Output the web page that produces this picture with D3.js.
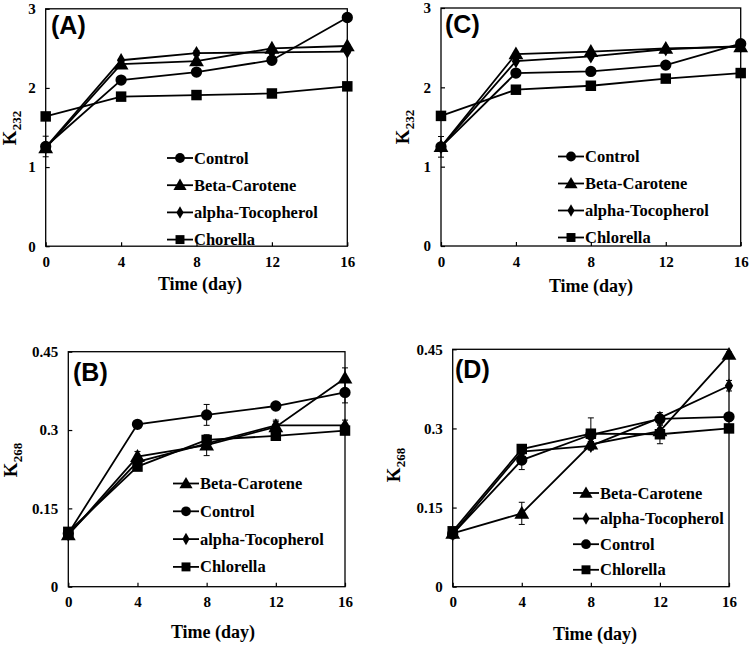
<!DOCTYPE html>
<html>
<head>
<meta charset="utf-8">
<script src="https://cdn.jsdelivr.net/npm/d3@7"></script>
<style>
  html, body { margin: 0; padding: 0; background: #fff; }
  svg { display: block; }
</style>
</head>
<body>
<svg id="chart" width="750" height="646"></svg>
<script>
// ---------------- DATA ----------------
const days = [0, 4, 8, 12, 16];
const xTicks = [0, 4, 8, 12, 16];
const yTicksK232 = [0, 1, 2, 3];
const yTicksK268 = [0, 0.15, 0.3, 0.45];

// Panel A (K232)
const A_control   = [1.26, 2.10, 2.20, 2.35, 2.89];
const A_beta      = [1.24, 2.30, 2.34, 2.50, 2.53];
const A_alpha     = [1.25, 2.35, 2.44, 2.45, 2.46];
const A_chlorella = [1.64, 1.89, 1.91, 1.93, 2.02];
const A_controlErr = [0.13, 0.02, 0.02, 0.02, 0.02];
const A_betaErr    = [0.02, 0.02, 0.02, 0.02, 0.02];
const A_alphaErr   = [0.02, 0.02, 0.03, 0.02, 0.02];
const A_chlorellaErr = [0.02, 0.02, 0.02, 0.02, 0.02];

// Panel C (K232)
const C_control   = [1.25, 2.18, 2.20, 2.28, 2.55];
const C_beta      = [1.25, 2.42, 2.45, 2.49, 2.51];
const C_alpha     = [1.25, 2.33, 2.39, 2.48, 2.52];
const C_chlorella = [1.64, 1.97, 2.02, 2.11, 2.18];
const C_controlErr = [0.13, 0.02, 0.02, 0.02, 0.02];
const C_betaErr    = [0.02, 0.02, 0.02, 0.02, 0.02];
const C_alphaErr   = [0.02, 0.02, 0.02, 0.02, 0.02];
const C_chlorellaErr = [0.02, 0.02, 0.02, 0.02, 0.02];

// Panel B (K268)
const B_control   = [0.102, 0.311, 0.329, 0.346, 0.372];
const B_beta      = [0.099, 0.249, 0.271, 0.306, 0.399];
const B_alpha     = [0.100, 0.239, 0.274, 0.309, 0.309];
const B_chlorella = [0.105, 0.230, 0.281, 0.289, 0.299];
const B_controlErr = [0.003, 0.005, 0.020, 0.005, 0.020];
const B_betaErr    = [0.003, 0.010, 0.020, 0.010, 0.020];
const B_alphaErr   = [0.003, 0.005, 0.005, 0.010, 0.010];
const B_chlorellaErr = [0.003, 0.005, 0.005, 0.005, 0.005];

// Panel D (K268)
const D_control   = [0.100, 0.240, 0.288, 0.318, 0.322];
const D_beta      = [0.101, 0.139, 0.270, 0.295, 0.440];
const D_alpha     = [0.100, 0.256, 0.267, 0.320, 0.381];
const D_chlorella = [0.105, 0.261, 0.290, 0.289, 0.300];
const D_controlErr = [0.003, 0.018, 0.005, 0.012, 0.005];
const D_betaErr    = [0.003, 0.021, 0.005, 0.005, 0.005];
const D_alphaErr   = [0.003, 0.005, 0.008, 0.005, 0.010];
const D_chlorellaErr = [0.003, 0.005, 0.030, 0.018, 0.005];

// ---------------- DRAW ----------------
const svg = d3.select("#chart");
const SERIF = "'Liberation Serif','Times New Roman',serif";
const SANS = "'Liberation Sans',Arial,sans-serif";

const markerType = {
  control: d3.symbolCircle,
  beta: d3.symbolTriangle,
  alpha: d3.symbolDiamond,
  chlorella: d3.symbolSquare
};
const markerSize = { control: 100, beta: 95, alpha: 60, chlorella: 110 };
const legendSize = { control: 75, beta: 75, alpha: 45, chlorella: 80 };

const panels = [
  {
    label: "(A)", box: {l: 45.7, r: 347.3, t: 8.8, b: 246.2}, yMax: 3, yTicks: yTicksK232, sub: "232",
    series: {control: [A_control, A_controlErr], beta: [A_beta, A_betaErr], alpha: [A_alpha, A_alphaErr], chlorella: [A_chlorella, A_chlorellaErr]},
    legend: [["control","Control"],["beta","Beta-Carotene"],["alpha","alpha-Tocopherol"],["chlorella","Chorella"]],
    leg: {x: 167, y: 158, dy: 27.2}, labelPos: {x: 51, y: 34}, title: {x: 200, y: 290}, ytitle: {x: 16, y: 128}
  },
  {
    label: "(C)", box: {l: 441, r: 740.7, t: 8, b: 246}, yMax: 3, yTicks: yTicksK232, sub: "232",
    series: {control: [C_control, C_controlErr], beta: [C_beta, C_betaErr], alpha: [C_alpha, C_alphaErr], chlorella: [C_chlorella, C_chlorellaErr]},
    legend: [["control","Control"],["beta","Beta-Carotene"],["alpha","alpha-Tocopherol"],["chlorella","Chlorella"]],
    leg: {x: 558, y: 156.5, dy: 27}, labelPos: {x: 445, y: 33}, title: {x: 591, y: 292}, ytitle: {x: 409, y: 127}
  },
  {
    label: "(B)", box: {l: 68.3, r: 345, t: 351.7, b: 586.7}, yMax: 0.45, yTicks: yTicksK268, sub: "268",
    series: {control: [B_control, B_controlErr], beta: [B_beta, B_betaErr], alpha: [B_alpha, B_alphaErr], chlorella: [B_chlorella, B_chlorellaErr]},
    legend: [["beta","Beta-Carotene"],["control","Control"],["alpha","alpha-Tocopherol"],["chlorella","Chlorella"]],
    leg: {x: 173, y: 483.5, dy: 27.8}, labelPos: {x: 73, y: 381}, title: {x: 213, y: 638}, ytitle: {x: 17, y: 460}
  },
  {
    label: "(D)", box: {l: 452.7, r: 729, t: 349.3, b: 586.7}, yMax: 0.45, yTicks: yTicksK268, sub: "268",
    series: {control: [D_control, D_controlErr], beta: [D_beta, D_betaErr], alpha: [D_alpha, D_alphaErr], chlorella: [D_chlorella, D_chlorellaErr]},
    legend: [["beta","Beta-Carotene"],["alpha","alpha-Tocopherol"],["control","Control"],["chlorella","Chlorella"]],
    leg: {x: 573, y: 493, dy: 25.6}, labelPos: {x: 455, y: 378}, title: {x: 595, y: 640}, ytitle: {x: 400, y: 465}
  }
];

const drawOrder = ["chlorella", "alpha", "beta", "control"];

panels.forEach(p => {
  const g = svg.append("g");
  const x = d3.scaleLinear().domain([0, 16]).range([p.box.l, p.box.r]);
  const y = d3.scaleLinear().domain([0, p.yMax]).range([p.box.b, p.box.t]);

  // frame
  g.append("rect")
    .attr("x", p.box.l).attr("y", p.box.t)
    .attr("width", p.box.r - p.box.l).attr("height", p.box.b - p.box.t)
    .attr("fill", "none").attr("stroke", "#000").attr("stroke-width", 1.3);

  // axes with inward ticks
  const fmt = v => (v === 0 ? "0" : String(+v.toFixed(2)));
  const xAxis = d3.axisBottom(x).tickValues(xTicks).tickSizeInner(-4).tickSizeOuter(0).tickPadding(10).tickFormat(d3.format("d"));
  const yAxis = d3.axisLeft(y).tickValues(p.yTicks).tickSizeInner(-4).tickSizeOuter(0).tickPadding(10).tickFormat(fmt);

  const gx = g.append("g").attr("transform", `translate(0,${p.box.b})`).call(xAxis);
  const gy = g.append("g").attr("transform", `translate(${p.box.l},0)`).call(yAxis);
  [gx, gy].forEach(a => {
    a.select(".domain").remove();
    a.selectAll(".tick line").attr("stroke", "#000").attr("stroke-width", 1.2);
    a.selectAll(".tick text").attr("fill", "#000")
      .style("font-family", SERIF).style("font-weight", "bold").style("font-size", "15px");
  });

  // lines
  const line = d3.line().x((d, i) => x(days[i])).y(d => y(d));
  drawOrder.forEach(k => {
    const [vals, errs] = p.series[k];
    g.append("path").datum(vals).attr("d", line)
      .attr("fill", "none").attr("stroke", "#000").attr("stroke-width", 1.8);
    // error bars
    vals.forEach((v, i) => {
      const e = errs[i];
      const cx = x(days[i]);
      const y1 = y(v - e), y2 = y(v + e);
      g.append("line").attr("x1", cx).attr("x2", cx).attr("y1", y1).attr("y2", y2)
        .attr("stroke", "#000").attr("stroke-width", 1);
      [y1, y2].forEach(yy => g.append("line").attr("x1", cx - 3).attr("x2", cx + 3).attr("y1", yy).attr("y2", yy)
        .attr("stroke", "#000").attr("stroke-width", 1));
    });
  });
  drawOrder.forEach(k => {
    const [vals] = p.series[k];
    g.selectAll(null).data(vals).enter().append("path")
      .attr("d", d3.symbol().type(markerType[k]).size(markerSize[k]))
      .attr("transform", (d, i) => `translate(${x(days[i])},${y(d) + (k === "beta" ? 1 : 0)})`)
      .attr("fill", "#000");
  });

  // legend
  p.legend.forEach(([k, name], i) => {
    const ly = p.leg.y + i * p.leg.dy;
    g.append("line").attr("x1", p.leg.x).attr("x2", p.leg.x + 26).attr("y1", ly).attr("y2", ly)
      .attr("stroke", "#000").attr("stroke-width", 1.8);
    g.append("path").attr("d", d3.symbol().type(markerType[k]).size(legendSize[k])())
      .attr("transform", `translate(${p.leg.x + 13},${ly + (k === "beta" ? 1 : 0)})`).attr("fill", "#000");
    g.append("text").attr("x", p.leg.x + 27).attr("y", ly + 5.5)
      .style("font-family", SERIF).style("font-weight", "bold").style("font-size", "16.5px")
      .text(name);
  });

  // panel label
  g.append("text").attr("x", p.labelPos.x).attr("y", p.labelPos.y)
    .style("font-family", SANS).style("font-weight", "bold").style("font-size", "25px")
    .text(p.label);

  // x title
  g.append("text").attr("x", p.title.x).attr("y", p.title.y).attr("text-anchor", "middle")
    .style("font-family", SERIF).style("font-weight", "bold").style("font-size", "18px")
    .text("Time (day)");

  // y title with subscript
  const yt = g.append("text").attr("transform", `translate(${p.ytitle.x},${p.ytitle.y}) rotate(-90)`)
    .attr("text-anchor", "middle")
    .style("font-family", SERIF).style("font-weight", "bold").style("font-size", "19px");
  yt.append("tspan").text("K");
  yt.append("tspan").attr("dy", 5).style("font-size", "13px").text(p.sub);
});
</script>
</body>
</html>
